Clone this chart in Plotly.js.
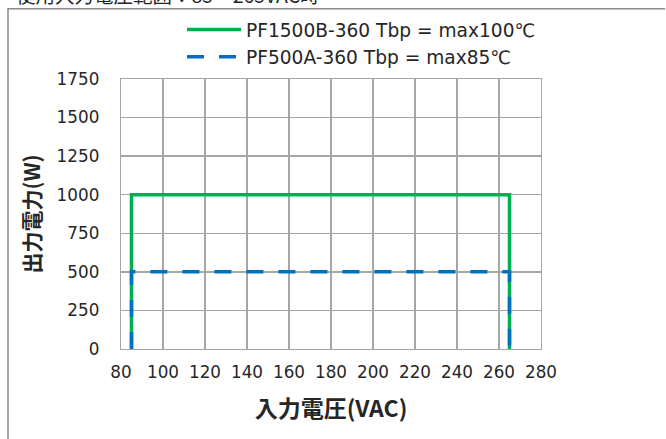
<!DOCTYPE html>
<html>
<head>
<meta charset="utf-8">
<script src="https://cdn.plot.ly/plotly-3.0.1.min.js"></script>
<style>
html,body{margin:0;padding:0;background:#fff;}
#chart{width:666px;height:439px;}
</style>
</head>
<body>
<div id="chart"></div>
<script>
// Data
const seriesNames = ["PF1500B-360 Tbp = max100℃", "PF500A-360 Tbp = max85℃"];
const voltageA = [85, 85, 265, 265];
const powerA = [0, 1000, 1000, 0];
const voltageB = [85, 85, 265, 265];
const powerB = [0, 500, 500, 0];
const xTicks = [80, 100, 120, 140, 160, 180, 200, 220, 240, 260, 280];
const yTicks = [0, 250, 500, 750, 1000, 1250, 1500, 1750];
const xTitle = "入力電圧(VAC)";
const yTitle = "出力電力(W)";
const topNote = "使用入力電圧範囲：85～265VAC時";

const latin = '"DejaVu Sans", Verdana, "Noto Sans CJK JP", sans-serif';
const cjk = '"Noto Sans CJK JP", "DejaVu Sans", sans-serif';

const traces = [
  {x: voltageA, y: powerA, name: seriesNames[0], mode: 'lines',
   line: {color: '#00b050', width: 3.5}},
  {x: voltageB, y: powerB, name: seriesNames[1], mode: 'lines',
   line: {color: '#0070c0', width: 3.5, dash: '17px,15px'}}
];

const W = 666, H = 439;
const L = 121, R = 125, T = 78, B = 90;
const pw = W - L - R, ph = H - T - B;
const px = v => (v - L) / pw;
const py = v => (H - B - v) / ph;

const layout = {
  width: W, height: H,
  margin: {l: L, r: R, t: T, b: B, pad: 0},
  paper_bgcolor: '#fff', plot_bgcolor: '#fff',
  font: {family: latin, size: 16.8, color: '#262626'},
  showlegend: true,
  legend: {x: px(182), y: py(11), xanchor: 'left', yanchor: 'top',
           font: {family: latin, size: 18.6, color: '#262626'},
           itemwidth: 54, tracegroupgap: 0, bgcolor: 'rgba(0,0,0,0)'},
  xaxis: {range: [80, 280], tickvals: xTicks, ticktext: xTicks.map(String),
          showgrid: true, gridcolor: '#a6a6a6', gridwidth: 1.3,
          showline: true, linecolor: '#a6a6a6', linewidth: 1.3, mirror: true,
          zeroline: false, ticks: '', ticklabelstandoff: 8,
          title: {text: xTitle, font: {family: cjk, size: 23, color: '#262626', weight: 'bold'}, standoff: 19}},
  yaxis: {range: [0, 1750], tickvals: yTicks, ticktext: yTicks.map(String),
          showgrid: true, gridcolor: '#a6a6a6', gridwidth: 1.3,
          showline: true, linecolor: '#a6a6a6', linewidth: 1.3, mirror: true,
          zeroline: false, ticks: '', ticklabelstandoff: 17,
          title: {text: yTitle, font: {family: cjk, size: 21, color: '#262626', weight: 'bold'}, standoff: 10}},
  shapes: [
    {type: 'path', xref: 'paper', yref: 'paper', layer: 'below',
     path: `M ${px(8)} ${py(460)} L ${px(8)} ${py(7.5)} L ${px(665)} ${py(7.5)}`,
     line: {color: '#8c8c8c', width: 1.5}}
  ],
  annotations: [
    {text: topNote, xref: 'paper', yref: 'paper', x: px(14), y: py(10),
     xanchor: 'left', yanchor: 'bottom', showarrow: false,
     font: {family: cjk, size: 19.5, color: '#262626'}}
  ]
};

Plotly.newPlot('chart', traces, layout, {displayModeBar: false, staticPlot: true});
</script>
</body>
</html>
